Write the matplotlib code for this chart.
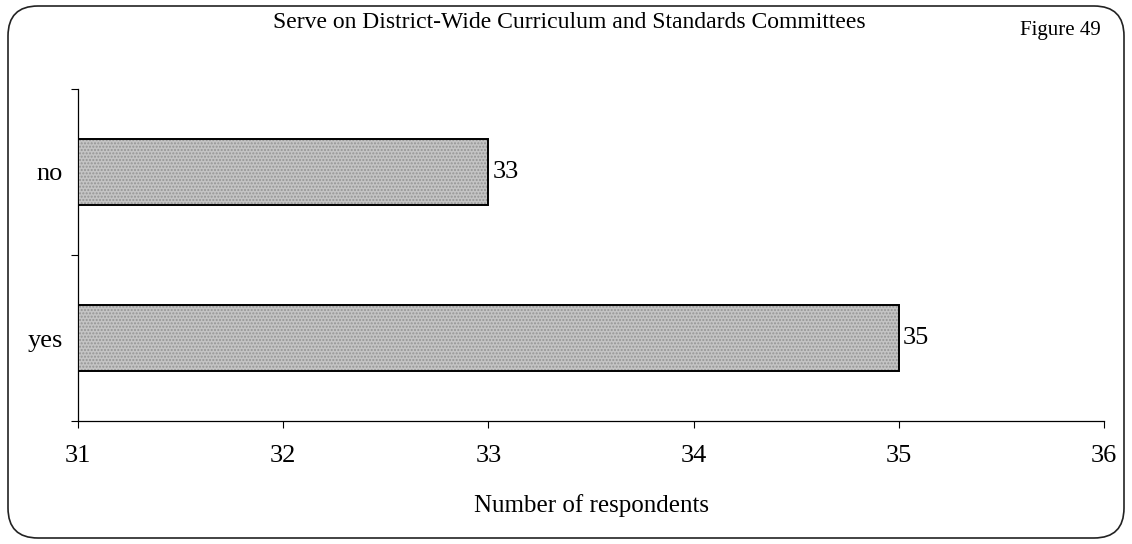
import numpy as np
import matplotlib
matplotlib.use("Agg")
import matplotlib.pyplot as plt
from matplotlib.patches import FancyBboxPatch

plt.rcParams['font.family'] = ['Liberation Serif', 'DejaVu Serif']

# survey answers, bottom to top
answers = ['yes', 'no']
respondents = np.array([35, 33])

x_min, x_max = 31, 36
x_ticks = [31, 32, 33, 34, 35, 36]

title = 'Serve on District-Wide Curriculum and Standards Committees'
figure_label = 'Figure 49'
x_label = 'Number of respondents'

W, H = 1132, 544
fig = plt.figure(figsize=(W / 100, H / 100), dpi=100)

# rounded frame around the whole figure, drawn in pixel units
frame_ax = fig.add_axes([0, 0, 1, 1])
frame_ax.set_xlim(0, W)
frame_ax.set_ylim(H, 0)
frame_ax.axis('off')
frame_ax.add_patch(FancyBboxPatch((8, 6), W - 16, H - 12,
                                  boxstyle='round,pad=0,rounding_size=30',
                                  facecolor='none', edgecolor='#222222', linewidth=1.2))

ax = fig.add_axes([78 / W, 1 - 421 / H, (1104 - 78) / W, (421 - 89) / H])
ax.patch.set_alpha(0)

pos = np.arange(len(answers))
bars = ax.barh(pos, respondents - x_min, left=x_min, height=0.4,
               color='#c4c4c4', edgecolor='black', linewidth=1.4,
               hatch='.....', zorder=3)
for b in bars:
    b._hatch_color = (0.58, 0.58, 0.58, 1.0)

for y, v in zip(pos, respondents):
    ax.annotate(str(v), xy=(v, y), xytext=(3, 0), textcoords='offset points',
                ha='left', va='center', fontsize=19)

ax.set_xlim(x_min, x_max)
ax.set_ylim(-0.5, len(answers) - 0.5)
ax.set_xticks(x_ticks)
ax.set_xticklabels([str(t) for t in x_ticks], fontsize=19)
ax.tick_params(axis='x', length=5, width=0.8, pad=12)

# category boundaries get ticks, category names sit between them
ax.set_yticks(np.arange(-0.5, len(answers), 1.0))
ax.set_yticklabels([])
ax.set_yticks(pos, minor=True)
ax.set_yticklabels(answers, minor=True, fontsize=19)
ax.tick_params(axis='y', which='major', length=5, width=0.8)
ax.tick_params(axis='y', which='minor', length=0, pad=11)

for side in ['top', 'right']:
    ax.spines[side].set_visible(False)
for side in ['left', 'bottom']:
    ax.spines[side].set_linewidth(0.9)

ax.set_xlabel(x_label, fontsize=18)
ax.xaxis.set_label_coords(0.5, (421 - 506) / (421 - 89))
ax.xaxis.label.set_va('center')

fig.text(0.503, 1 - 22 / H, title, ha='center', va='center', fontsize=17)
fig.text(1020 / W, 1 - 30 / H, figure_label, ha='left', va='center', fontsize=15)

fig.savefig('out.png', dpi=100)
